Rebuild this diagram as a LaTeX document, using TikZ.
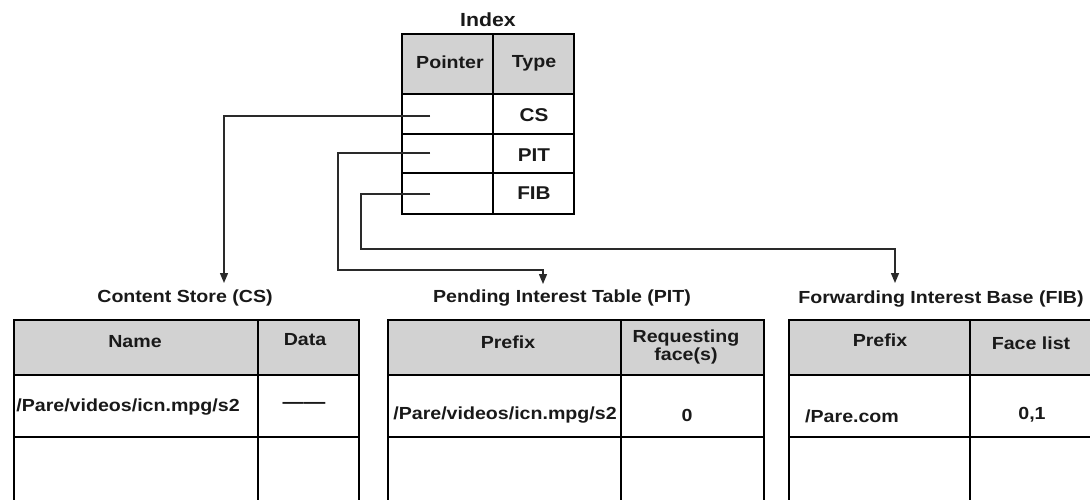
\documentclass[tikz,border=0pt]{standalone}
\usepackage{fontspec}
\setmainfont{Liberation Sans}[FakeStretch=1.12]
\usetikzlibrary{arrows.meta}
\definecolor{hdr}{HTML}{D2D2D2}
\definecolor{wire}{HTML}{2A2A2A}
\tikzset{
  cellbox/.style={draw=black, line width=2pt, anchor=north west, inner sep=0pt},
  hdrbox/.style={cellbox, fill=hdr},
  txt/.style={font=\bfseries\fontsize{17.5}{18.5}\selectfont, inner sep=0pt, align=center, text=black!90},
  ttl/.style={txt},
  conn/.style={draw=wire, line width=1.4pt, -{Triangle[width=8pt,length=10pt]}},
}
% \tcell{name}{style}{x}{y}{width}{height}: an empty table cell, top-left at (x,y)
\newcommand\tcell[6]{\node[#2, minimum width=#5pt, minimum height=#6pt] (#1) at (#3,#4) {};}

\begin{document}
\begin{tikzpicture}[x=1pt,y=-1pt]
\useasboundingbox (0,0) rectangle (1090,499);
\fill[white] (0,0) rectangle (1090,499);

% ---------- Index table ----------
\node[txt, font=\bfseries\fontsize{19}{20}\selectfont] (idxtitle) at (488,20) {Index};
\tcell{iptrh}{hdrbox}{401}{33}{91}{60}
\tcell{itypeh}{hdrbox}{492}{33}{81}{60}
\tcell{iptr1}{cellbox}{401}{93}{91}{40}
\tcell{itype1}{cellbox}{492}{93}{81}{40}
\tcell{iptr2}{cellbox}{401}{133}{91}{39}
\tcell{itype2}{cellbox}{492}{133}{81}{39}
\tcell{iptr3}{cellbox}{401}{172}{91}{41}
\tcell{itype3}{cellbox}{492}{172}{81}{41}
\node[txt] (tptr) at (450,62) {Pointer};
\node[txt] (ttype) at (534,63) {Type};
\node[txt, font=\bfseries\fontsize{18.5}{19}\selectfont] (tcs) at (534,115) {CS};
\node[txt, font=\bfseries\fontsize{18.5}{19}\selectfont] (tpit) at (534,155) {PIT};
\node[txt, font=\bfseries\fontsize{18.5}{19}\selectfont] (tfib) at (534,193) {FIB};

% ---------- Content Store ----------
\node[ttl] (cstitle) at (185,298) {Content Store (CS)};
\tcell{csnh}{hdrbox}{13}{319}{244}{55}
\tcell{csdh}{hdrbox}{257}{319}{101}{55}
\tcell{csn1}{cellbox}{13}{374}{244}{62}
\tcell{csd1}{cellbox}{257}{374}{101}{62}
\tcell{csn2}{cellbox}{13}{436}{244}{70}
\tcell{csd2}{cellbox}{257}{436}{101}{70}
\node[txt] (csname) at (135,342) {Name};
\node[txt] (csdata) at (305,340) {Data};
\node[txt] (csrow) at (128,407) {/Pare/videos/icn.mpg/s2};
\node[txt, font=\bfseries\fontsize{19}{19}\selectfont] (csdash) at (304,405) {——};

% ---------- Pending Interest Table ----------
\node[ttl] (pittitle) at (562,298) {Pending Interest Table (PIT)};
\tcell{pitph}{hdrbox}{387}{319}{233}{55}
\tcell{pitfh}{hdrbox}{620}{319}{143}{55}
\tcell{pitp1}{cellbox}{387}{374}{233}{62}
\tcell{pitf1}{cellbox}{620}{374}{143}{62}
\tcell{pitp2}{cellbox}{387}{436}{233}{70}
\tcell{pitf2}{cellbox}{620}{436}{143}{70}
\node[txt] (pitprefix) at (508,342) {Prefix};
\node[txt] (pitfaces) at (686,347) {Requesting\\face(s)};
\node[txt] (pitrow) at (505,415) {/Pare/videos/icn.mpg/s2};
\node[txt] (pitzero) at (687,415) {0};

% ---------- Forwarding Interest Base ----------
\node[ttl] (fibtitle) at (941,299) {Forwarding Interest Base (FIB)};
\tcell{fibph}{hdrbox}{788}{319}{181}{55}
\tcell{fibfh}{hdrbox}{969}{319}{126}{55}
\tcell{fibp1}{cellbox}{788}{374}{181}{62}
\tcell{fibf1}{cellbox}{969}{374}{126}{62}
\tcell{fibp2}{cellbox}{788}{436}{181}{70}
\tcell{fibf2}{cellbox}{969}{436}{126}{70}
\node[txt] (fibprefix) at (880,340) {Prefix};
\node[txt] (fibfaces) at (1031,343) {Face list};
\node[txt, anchor=west] (fibrow) at (805,416) {/Pare.com};
\node[txt] (fibface) at (1032,415) {0,1};

% ---------- Pointers from the index to the tables ----------
\coordinate (csp) at (430,116);
\coordinate (cstip) at (224,283);
\coordinate (pitp) at (430,153);
\coordinate (pitbend) at (338,270);
\coordinate (pittip) at (543,284);
\coordinate (fibp) at (430,194);
\coordinate (fibbend) at (361,249);
\coordinate (fibtip) at (895,283);
\draw[conn] (csp) -| (cstip);
\draw[conn] (pitp) -| (pitbend) -| (pittip);
\draw[conn] (fibp) -| (fibbend) -| (fibtip);
\end{tikzpicture}
\end{document}
